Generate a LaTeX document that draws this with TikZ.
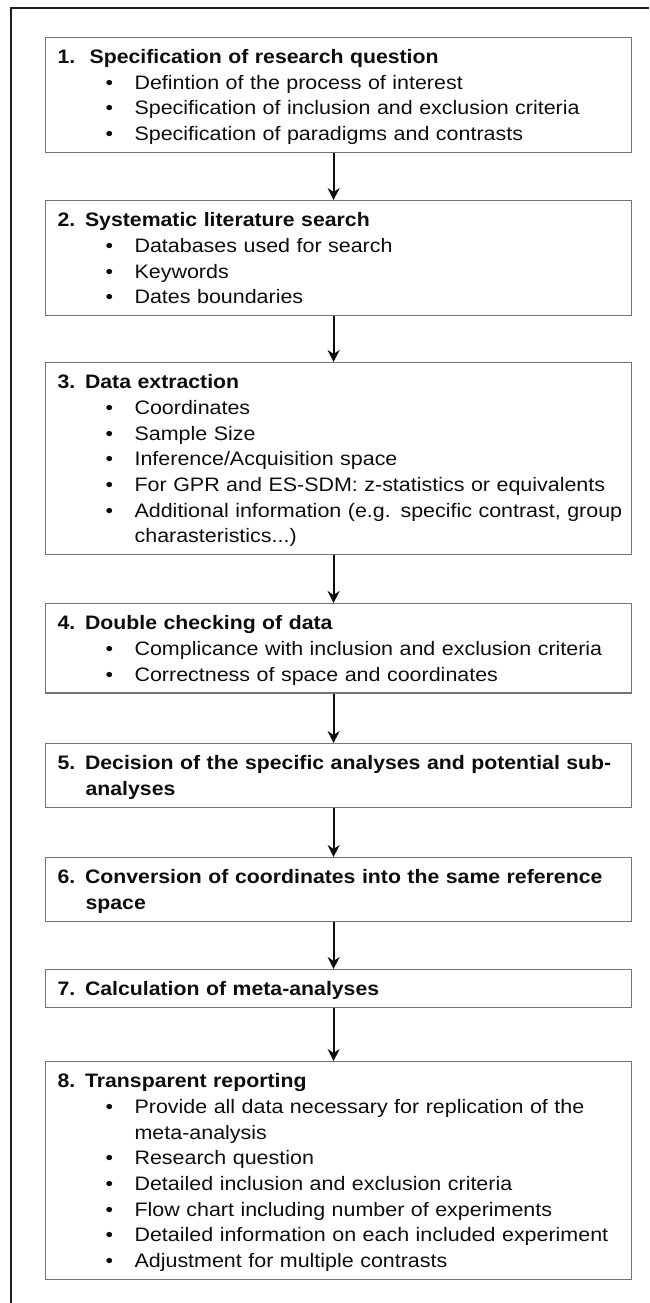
\documentclass[tikz,border=0pt]{standalone}
\usepackage{fontspec}
\setmainfont{Liberation Sans}[UprightFeatures={FakeStretch=1.10}, BoldFeatures={FakeStretch=1.09}]
\usetikzlibrary{arrows.meta}
\setlength{\parindent}{0pt}
\setlength{\parskip}{0pt}
\definecolor{ChartInk}{gray}{0.05}
\definecolor{ChartFrame}{gray}{0.12}
\definecolor{ChartBorder}{gray}{0.45}
\newcommand{\stephead}[2]{\noindent\rule{0pt}{26pt}\mbox{\textbf{#1 #2}}}
\newcommand{\stepcont}[1]{\par\noindent\hspace*{28pt}\mbox{\textbf{#1}}}
\newcommand{\bitem}[1]{\par\noindent\hspace*{48pt}\makebox[29pt][l]{\textbullet}\mbox{#1}}
\newcommand{\bcont}[1]{\par\noindent\hspace*{77pt}\mbox{#1}}
\newcommand{\lastline}{\rule[-12pt]{0pt}{12pt}}
\tikzset{
    flow/chart/.style={
        x=1pt, y=-1pt,
        text=ChartInk,
        line cap=butt,
        line join=miter
    },
    flow/frame/.style={draw=ChartFrame, line width=2.4pt},
    flow/box/.style={
        draw=ChartBorder, line width=1.2pt, anchor=north west,
        align=left, text width=562pt, inner xsep=12pt, inner ysep=0pt,
        font=\fontsize{19.5}{25.7}\selectfont
    },
    flow/arrow/.style={
        draw=ChartInk, line width=2.1pt,
        -{Stealth[length=12pt, width=12pt, inset=4pt]}
    }
}
\begin{document}
\begin{tikzpicture}[flow/chart]
    \useasboundingbox (0,0) rectangle (649,1303);
    \draw[flow/frame] (649,8) -- (11,8) -- (11,1303);
    \node[flow/box] (question) at (45,37)
        {\noindent\rule{0pt}{26pt}\textbf{\makebox[32pt][l]{1.}Specification of research question}
        \bitem{Defintion of the process of interest}
        \bitem{Specification of inclusion and exclusion criteria}
        \bitem{Specification of paradigms and contrasts}\lastline};
    \node[flow/box] (search) at (45,200)
        {\stephead{2.}{Systematic literature search}
        \bitem{Databases used for search}
        \bitem{Keywords}
        \bitem{Dates boundaries}\lastline};
    \node[flow/box] (extraction) at (45,362)
        {\stephead{3.}{Data extraction}
        \bitem{Coordinates}
        \bitem{Sample Size}
        \bitem{Inference/Acquisition space}
        \bitem{For GPR and ES-SDM: z-statistics or equivalents}
        \bitem{Additional information (e.g. specific contrast, group}
        \bcont{charasteristics...)}\lastline};
    \node[flow/box] (checking) at (45,603)
        {\stephead{4.}{Double checking of data}
        \bitem{Complicance with inclusion and exclusion criteria}
        \bitem{Correctness of space and coordinates}\lastline};
    \node[flow/box] (decision) at (45,743)
        {\stephead{5.}{Decision of the specific analyses and potential sub-}
        \stepcont{analyses}\lastline};
    \node[flow/box] (conversion) at (45,857)
        {\stephead{6.}{Conversion of coordinates into the same reference}
        \stepcont{space}\lastline};
    \node[flow/box] (calculation) at (45,969)
        {\stephead{7.}{Calculation of meta-analyses}\lastline};
    \node[flow/box] (reporting) at (45,1061)
        {\stephead{8.}{Transparent reporting}
        \bitem{Provide all data necessary for replication of the}
        \bcont{meta-analysis}
        \bitem{Research question}
        \bitem{Detailed inclusion and exclusion criteria}
        \bitem{Flow chart including number of experiments}
        \bitem{Detailed information on each included experiment}
        \bitem{Adjustment for multiple contrasts}\lastline};
    \draw[flow/arrow] ([xshift=-5pt]question.south) -- ([xshift=-5pt]search.north);
    \draw[flow/arrow] ([xshift=-5pt]search.south) -- ([xshift=-5pt]extraction.north);
    \draw[flow/arrow] ([xshift=-5pt]extraction.south) -- ([xshift=-5pt]checking.north);
    \draw[flow/arrow] ([xshift=-5pt]checking.south) -- ([xshift=-5pt]decision.north);
    \draw[flow/arrow] ([xshift=-5pt]decision.south) -- ([xshift=-5pt]conversion.north);
    \draw[flow/arrow] ([xshift=-5pt]conversion.south) -- ([xshift=-5pt]calculation.north);
    \draw[flow/arrow] ([xshift=-5pt]calculation.south) -- ([xshift=-5pt]reporting.north);
\end{tikzpicture}
\end{document}
